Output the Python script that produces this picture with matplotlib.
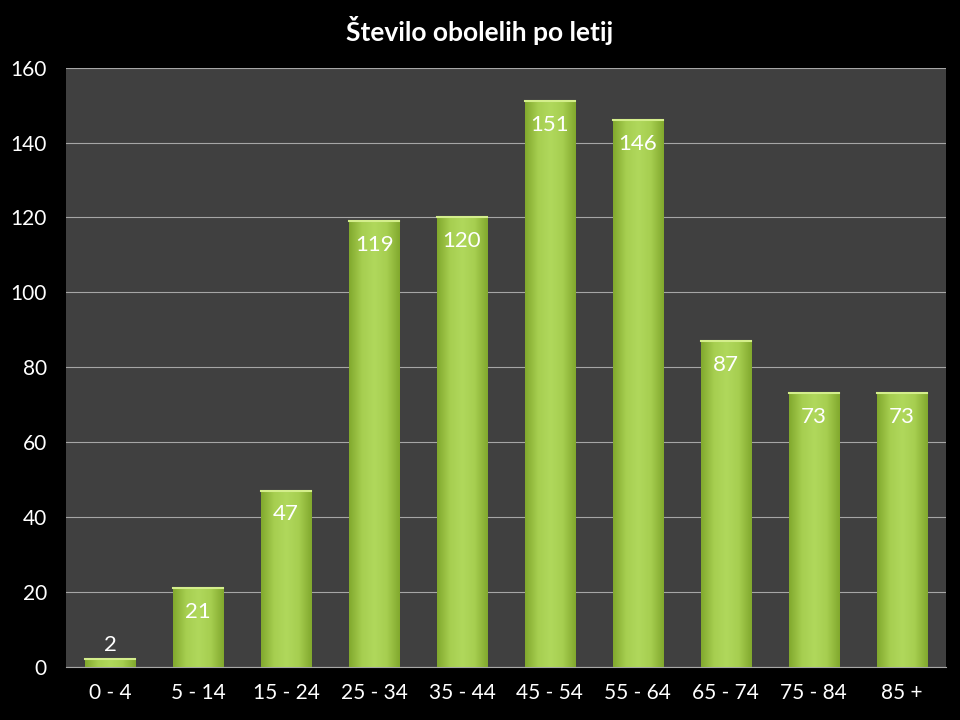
import numpy as np
import matplotlib.pyplot as plt
from matplotlib.colors import LinearSegmentedColormap

plt.rcParams['font.family'] = ['Lato', 'DejaVu Sans']

# podatki
skupine = ["0 - 4", "5 - 14", "15 - 24", "25 - 34", "35 - 44",
           "45 - 54", "55 - 64", "65 - 74", "75 - 84", "85 +"]
oboleli = [2, 21, 47, 119, 120, 151, 146, 87, 73, 73]

fig = plt.figure(figsize=(9.6, 7.2), dpi=100, facecolor='black')
ax = fig.add_axes([0.069, 0.074, 0.916, 0.832])
ax.set_facecolor('#404040')

x = np.arange(len(skupine))
bars = ax.bar(x, oboleli, width=0.57, color='#9cc545', zorder=3)

# gradient po sirini stolpca
cmap = LinearSegmentedColormap.from_list('zelena', ['#82a92e', '#a6ce50', '#b0d85c', '#a6ce50', '#82a92e'])
grad = np.linspace(0, 1, 64).reshape(1, -1)
for b in bars:
    x0, w, h = b.get_x(), b.get_width(), b.get_height()
    b.set_facecolor('none')
    ax.imshow(grad, cmap=cmap, aspect='auto', extent=(x0, x0 + w, 0, h), zorder=3)
    # svetlejsi rob na vrhu
    ax.plot([x0, x0 + w], [h, h], color='#d4ee8c', lw=1.5, zorder=4)

for xi, v in zip(x, oboleli):
    if v < 10:
        ax.annotate(str(v), (xi, v), xytext=(0, 10), textcoords='offset points',
                    ha='center', va='center', color='white', fontsize=16)
    else:
        ax.annotate(str(v), (xi, v), xytext=(0, -17), textcoords='offset points',
                    ha='center', va='center', color='white', fontsize=16)

ax.set_xlim(-0.5, len(skupine) - 0.5)
ax.set_ylim(0, 160)
ax.set_yticks(range(0, 161, 20))
ax.set_xticks(x)
ax.set_xticklabels(skupine)
ax.grid(axis='y', color='#a6a6a6', lw=0.8, zorder=1)
ax.tick_params(colors='white', labelsize=15, length=0, pad=12)
ax.tick_params(axis='y', pad=14)
for s in ax.spines.values():
    s.set_visible(False)
ax.spines['bottom'].set_visible(True)
ax.spines['bottom'].set_color('#a6a6a6')

fig.text(0.5, 0.957, "Število obolelih po letij", ha='center', va='center',
         color='white', fontsize=19, fontweight='bold')

fig.savefig('out.png', facecolor='black')
